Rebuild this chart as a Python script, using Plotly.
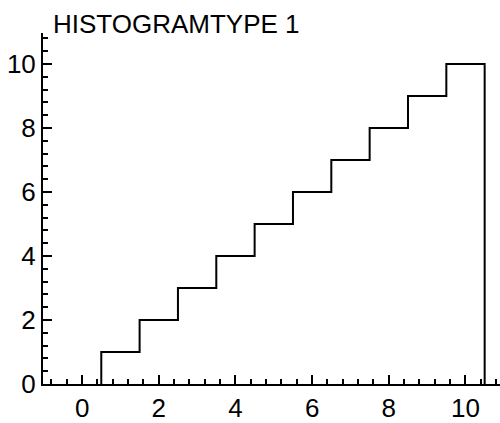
import plotly.graph_objects as go

bin_centers = [1, 2, 3, 4, 5, 6, 7, 8, 9, 10]
counts = [1, 2, 3, 4, 5, 6, 7, 8, 9, 10]
bin_width = 1.0
title_text = "HISTOGRAMTYPE 1"

xs = [bin_centers[0] - bin_width / 2] + [c + bin_width / 2 for c in bin_centers] + [bin_centers[-1] + bin_width / 2]
ys = [0] + counts + [0]

fig = go.Figure()
fig.add_trace(go.Scatter(
    x=xs, y=ys, mode="lines",
    line=dict(shape="vh", color="black", width=2),
    showlegend=False, cliponaxis=False,
))

font_family = "Liberation Sans, Arial, sans-serif"
axis_common = dict(
    showline=True, linecolor="black", linewidth=2,
    showgrid=False, zeroline=False,
    ticks="inside", ticklen=9, tickwidth=2, tickcolor="black",
    tickfont=dict(family=font_family, size=26, color="black"),
    dtick=2, tick0=0,
    minor=dict(dtick=0.4, tick0=0, ticks="inside", ticklen=5, tickwidth=2, tickcolor="black", showgrid=False),
    mirror=False,
)

fig.update_layout(
    width=500, height=423,
    margin=dict(l=43, r=0, t=33, b=39),
    paper_bgcolor="white", plot_bgcolor="white",
    xaxis=dict(range=[-1.02, 10.9], **axis_common),
    yaxis=dict(range=[0, 10.97], **axis_common),
    title=dict(
        text=title_text, x=53 / 500, xanchor="left", xref="container",
        y=1 - 23.4 / 423, yanchor="middle", yref="container",
        font=dict(family=font_family, size=26, color="black"),
    ),
)

fig.write_html("out.html")
